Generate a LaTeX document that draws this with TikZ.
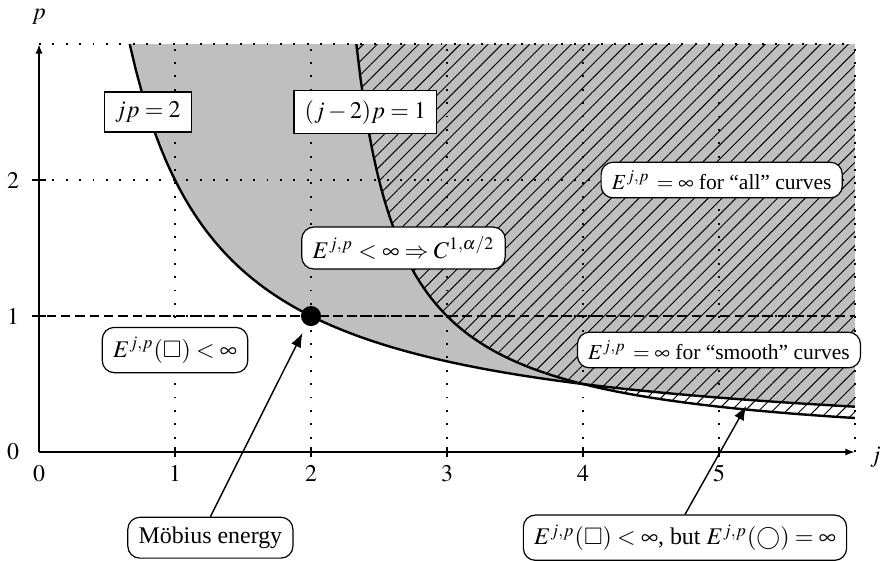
\documentclass[tikz,border=0pt]{standalone}
\usepackage{amssymb}
\usepackage{mathptmx}
\usepackage[no-math]{fontspec}
\setmainfont{Liberation Serif}
\usetikzlibrary{arrows.meta,patterns.meta}
\tikzset{
  griddot/.style={line width=0.8pt, dash pattern=on 0.8pt off 4.8pt},
  curveline/.style={line width=1pt},
  axisline/.style={line width=0.8pt},
  lab/.style={draw, fill=white, line width=0.5pt, inner xsep=4.5pt, inner ysep=4pt},
  rlab/.style={lab, rounded corners=5pt},
  slab/.style={rlab, font=\small, inner ysep=3.5pt},
  arr/.style={line width=0.6pt, -{Latex[length=6pt,width=4.5pt]}},
}
\begin{document}
\begin{tikzpicture}[x=2cm,y=2cm]
\useasboundingbox (-0.287,-0.794) rectangle (6.265,3.324);
% regions
\fill[black!25] plot[domain=0.6667:6,samples=120] (\x,{2/\x}) -- (6,3) -- (0.6667,3) -- cycle;
\fill[pattern={Lines[angle=45,distance=4.1pt,line width=0.4pt]}]
  plot[domain=2.3334:6,samples=120] (\x,{1/(\x-2)}) -- (6,3) -- cycle;
% grid
\foreach \i in {1,...,6} \draw[griddot] (\i,0) -- (\i,3);
\foreach \k in {1,2,3} \draw[griddot] (0,\k) -- (6,\k);
% curves
\draw[curveline] plot[domain=0.6667:6,samples=120] (\x,{2/\x});
\draw[curveline] plot[domain=2.3334:6,samples=120] (\x,{1/(\x-2)});
% p = 1 line
\draw[line width=0.9pt, dash pattern=on 4pt off 2pt] (-0.05,1) -- (6,1);
% axes
\coordinate (O) at (0,0);
\coordinate (xend) at (6,0);
\coordinate (yend) at (0,3);
\draw[axisline,-{Latex[length=4pt,width=3pt]}] (O) -- (xend);
\draw[axisline,-{Latex[length=4pt,width=3pt]}] (O) -- (yend);
\foreach \i in {1,...,5} \draw[axisline] (\i,-0.04) -- (\i,0.04);
\foreach \k in {1,2} \draw[axisline] (-0.05,\k) -- (0.05,\k);
\foreach \i in {0,...,5} \node (xl\i) at (\i,-0.16) {$\i$};
\foreach \k in {0,1,2} \node (yl\k) at (-0.19,\k) {$\k$};
\node (plab) at (0,3.2) {$p$};
\node (jlab) at (6.15,-0.04) {$j$};
% labels
\node[lab] (jp) at (0.8,2.5) {$jp=2$};
\node[lab] (jm) at (2.4,2.5) {$(j-2)p=1$};
\node[slab] (all) at (5.02,2.0) {$E^{j,p}\,=\infty$ for ``all'' curves};
\node[rlab] (creg) at (2.68,1.5) {$E^{j,p}<\infty\Rightarrow C^{1,\alpha/2}$};
\node[rlab] (sq) at (1.0,0.75) {$E^{j,p}(\square)<\infty$};
\node[slab] (smooth) at (5.0,0.75) {$E^{j,p}\,=\infty$ for ``smooth'' curves};
\node[rlab] (mob) at (1.26,-0.63) {Möbius energy};
\node[rlab] (but) at (4.75,-0.63) {$E^{j,p}(\square)<\infty$, but $E^{j,p}(\bigcirc)=\infty$};
% dot and arrows
\node[circle, fill, inner sep=0pt, minimum size=8.4pt] (dot) at (2,1) {};
\coordinate (sliver) at (5.2,0.34);
\draw[arr, shorten >=3.5pt] (mob.north) -- (dot);
\draw[arr] (but.north) -- (sliver);
\end{tikzpicture}
\end{document}
